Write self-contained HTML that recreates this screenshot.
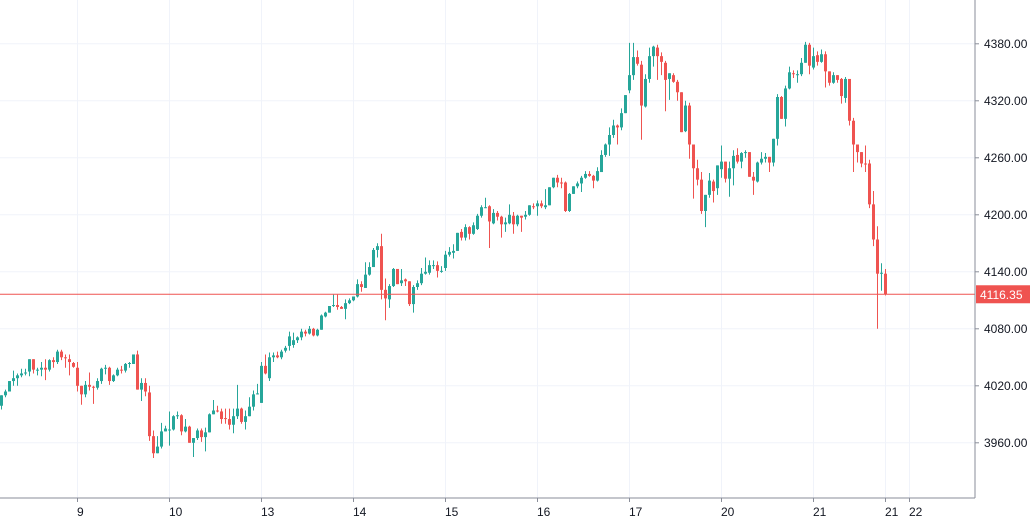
<!DOCTYPE html>
<html><head><meta charset="utf-8"><style>
html,body{margin:0;padding:0;background:#fff;}
svg{display:block;font-family:"Liberation Sans",sans-serif;}
</style></head><body>
<svg id="chart" width="1030" height="522" viewBox="0 0 1030 522" xmlns="http://www.w3.org/2000/svg">
<rect x="0" y="0" width="1030" height="522" fill="#ffffff"/>
<g id="grid"></g>
<g id="candles"></g>
<g id="axes"></g>
</svg>
<script>
const opens=[3999,4010,4014,4025,4028,4031,4033,4035,4048,4036,4037,4039,4037,4047,4045,4056,4050,4048,4044,4039,4020,4011,4021,4019,4018,4025,4038,4039,4025,4031,4037,4036,4043,4043,4053,4016,4023,4013,3967,3949,3956,3972,3974,3974,3988,3989,3972,3977,3960,3965,3973,3966,3971,3990,3994,3993,3986,3985,3979,3988,3996,3982,3988,3998,4011,4002,4041,4028,4050,4052,4050,4057,4062,4063,4068,4071,4077,4075,4080,4073,4079,4093,4097,4104,4105,4103,4101,4107,4110,4114,4127,4123,4137,4145,4163,4167,4121,4111,4125,4143,4128,4132,4130,4106,4124,4128,4138,4139,4147,4147,4141,4144,4158,4160,4162,4182,4176,4187,4180,4185,4199,4207,4209,4191,4202,4198,4190,4191,4199,4190,4199,4198,4200,4209,4209,4212,4208,4210,4229,4239,4234,4234,4204,4222,4230,4233,4239,4243,4241,4236,4245,4263,4274,4284,4294,4292,4307,4331,4347,4366,4358,4314,4343,4367,4376,4367,4360,4343,4347,4340,4329,4288,4315,4274,4249,4237,4204,4221,4235,4228,4248,4256,4238,4249,4263,4256,4265,4266,4240,4235,4255,4259,4261,4255,4280,4324,4301,4333,4349,4348,4348,4360,4379,4355,4368,4361,4369,4351,4339,4347,4343,4323,4343,4299,4274,4266,4254,4254,4211,4174,4138,4138];
const highs=[4010,4016,4025,4036,4033,4038,4038,4048,4048,4039,4045,4048,4048,4050,4058,4058,4053,4053,4045,4045,4020,4025,4034,4020,4028,4039,4042,4040,4032,4039,4041,4044,4045,4053,4057,4028,4028,4020,3973,3967,3981,3978,3993,3989,3993,3990,3985,3978,3965,3975,3975,3976,3991,4005,3999,3996,3996,3996,3996,4021,3997,3994,4008,4015,4022,4045,4053,4055,4055,4056,4058,4062,4077,4076,4072,4080,4079,4083,4081,4080,4095,4098,4104,4116,4116,4104,4111,4112,4114,4132,4130,4150,4150,4165,4170,4180,4133,4127,4144,4143,4143,4133,4130,4126,4131,4144,4155,4152,4152,4151,4146,4162,4166,4169,4181,4185,4190,4188,4192,4201,4210,4218,4210,4206,4204,4199,4197,4211,4203,4200,4199,4204,4210,4212,4215,4215,4227,4229,4239,4242,4239,4235,4223,4230,4235,4241,4246,4246,4242,4250,4268,4275,4292,4300,4295,4312,4326,4381,4381,4373,4362,4348,4376,4378,4379,4371,4362,4349,4349,4342,4329,4320,4318,4274,4258,4245,4221,4244,4237,4252,4273,4256,4256,4268,4270,4266,4268,4266,4245,4256,4266,4265,4261,4280,4327,4325,4336,4356,4352,4352,4365,4382,4381,4376,4372,4374,4372,4351,4350,4347,4344,4345,4343,4302,4274,4266,4273,4258,4225,4188,4149,4143];
const lows=[3995,4008,4014,4020,4020,4029,4031,4030,4033,4031,4030,4026,4035,4039,4043,4047,4039,4031,4039,4014,4000,4008,4015,4001,4016,4022,4032,4021,4024,4030,4033,4034,4039,4043,4016,4004,4009,3962,3944,3949,3954,3972,3957,3973,3985,3968,3971,3960,3945,3963,3961,3951,3971,3990,3992,3980,3980,3974,3970,3985,3980,3974,3988,3994,4011,4002,4032,4025,4045,4049,4048,4055,4057,4060,4065,4068,4072,4074,4072,4072,4079,4092,4097,4103,4100,4101,4090,4106,4109,4113,4119,4123,4136,4145,4155,4111,4089,4102,4124,4127,4125,4125,4104,4097,4121,4126,4137,4137,4143,4134,4139,4141,4156,4154,4162,4173,4173,4174,4179,4184,4197,4207,4165,4190,4194,4176,4182,4190,4180,4188,4182,4195,4199,4206,4199,4207,4206,4210,4228,4229,4228,4203,4203,4222,4228,4224,4238,4240,4228,4235,4245,4261,4262,4281,4274,4289,4307,4328,4342,4357,4279,4313,4339,4356,4342,4347,4309,4321,4339,4320,4287,4287,4259,4217,4231,4201,4187,4218,4213,4221,4239,4234,4219,4231,4254,4249,4260,4240,4221,4234,4253,4255,4245,4251,4273,4301,4293,4332,4344,4339,4346,4360,4348,4353,4357,4360,4334,4336,4338,4339,4317,4318,4294,4245,4255,4250,4245,4207,4167,4080,4120,4115];
const closes=[4010,4014,4025,4028,4031,4033,4034,4048,4037,4037,4039,4037,4047,4045,4056,4050,4049,4045,4040,4020,4011,4021,4019,4018,4025,4038,4039,4025,4031,4037,4036,4043,4044,4053,4016,4023,4014,3967,3949,3956,3972,3975,3974,3988,3989,3972,3977,3960,3965,3973,3966,3971,3990,3994,3993,3985,3985,3979,3988,3996,3982,3988,3998,4011,4012,4041,4033,4050,4052,4050,4056,4060,4072,4068,4071,4077,4075,4080,4073,4079,4094,4097,4104,4105,4103,4101,4107,4110,4114,4127,4124,4137,4145,4163,4167,4121,4112,4125,4143,4127,4131,4130,4106,4124,4128,4138,4140,4147,4147,4141,4141,4158,4161,4162,4181,4176,4187,4180,4189,4199,4208,4208,4193,4202,4198,4190,4192,4200,4190,4199,4197,4200,4210,4208,4212,4209,4210,4229,4239,4234,4233,4204,4222,4230,4233,4239,4243,4241,4236,4246,4263,4274,4284,4294,4292,4307,4326,4347,4366,4359,4315,4343,4367,4377,4367,4361,4342,4349,4340,4329,4287,4315,4274,4249,4237,4204,4221,4236,4225,4252,4256,4238,4249,4262,4256,4265,4266,4240,4236,4255,4259,4261,4255,4280,4324,4301,4333,4350,4348,4348,4360,4379,4357,4367,4361,4369,4351,4339,4347,4342,4325,4343,4299,4274,4266,4254,4253,4211,4174,4138,4139,4116.35];
const priceTicks=[4380,4320,4260,4200,4140,4080,4020,3960];
const dateTickIdx=[19,42,65,88,111,134,157,180,203,221,227];
const dateTickLabels=["9","10","13","14","15","16","17","20","21","21","22"];
const lastPrice=4116.35;

const NS="http://www.w3.org/2000/svg";
const PW=975, PH=498;
function yS(v){return 43.8+(4380-v)*0.95;}
function xS(i){return 1.5+4*i;}
function mk(tag,attrs,parent){const e=document.createElementNS(NS,tag);for(const k in attrs)e.setAttribute(k,attrs[k]);parent.appendChild(e);return e;}
const grid=document.getElementById('grid'),cg=document.getElementById('candles'),ax=document.getElementById('axes');

priceTicks.forEach(function(p){
  const l=mk('line',{x1:0,x2:PW,y1:yS(p),y2:yS(p),stroke:'#f0f3fa','stroke-width':1},grid);
  
  
});
dateTickIdx.forEach(function(i){
  const l=mk('line',{x1:xS(i),x2:xS(i),y1:0,y2:PH,stroke:'#f0f3fa','stroke-width':1},grid);
  
  
});

for(let i=0;i<closes.length;i++){
  const up=closes[i]>=opens[i];
  const col=up?'#26a69a':'#ef5350';
  const g=mk('g',{},cg);
  
  
  const x=xS(i);
  mk('line',{x1:x,x2:x,y1:yS(highs[i]),y2:yS(lows[i]),stroke:col,'stroke-width':1},g);
  const t=yS(Math.max(opens[i],closes[i])),b=yS(Math.min(opens[i],closes[i]));
  mk('rect',{x:x-1.5,y:t,width:3,height:Math.max(1,b-t),fill:col},g);
}

// price line
const pl=mk('line',{x1:0,x2:PW,y1:yS(lastPrice),y2:yS(lastPrice),stroke:'#ef5350','stroke-width':1},ax);



// axis lines
const ra=mk('line',{x1:PW,x2:PW,y1:0,y2:PH,stroke:'#8a8e99','stroke-width':1},ax);


const ba=mk('line',{x1:0,x2:PW,y1:PH,y2:PH,stroke:'#8a8e99','stroke-width':1},ax);



priceTicks.forEach(function(p){
  mk('line',{x1:PW,x2:PW+4,y1:yS(p),y2:yS(p),stroke:'#8a8e99','stroke-width':1},ax);
  const t=mk('text',{x:984,y:yS(p)+4,'font-size':12,fill:'#131722'},ax);
  t.textContent=p.toFixed(2);
  
  
});
dateTickIdx.forEach(function(i,k){
  mk('line',{x1:xS(i),x2:xS(i),y1:PH,y2:PH+4,stroke:'#8a8e99','stroke-width':1},ax);
  const t=mk('text',{x:xS(i)-0.5,y:516,'font-size':12,fill:'#131722'},ax);
  t.textContent=dateTickLabels[k];
  
  
});

const badge=mk('g',{},ax);


mk('rect',{x:PW+1,y:yS(lastPrice)-9,width:54,height:18,fill:'#ef5350'},badge);
const bt=mk('text',{x:980,y:yS(lastPrice)+4.5,'font-size':12,fill:'#ffffff'},badge);
bt.textContent=lastPrice.toFixed(2);
</script>
</body></html>
